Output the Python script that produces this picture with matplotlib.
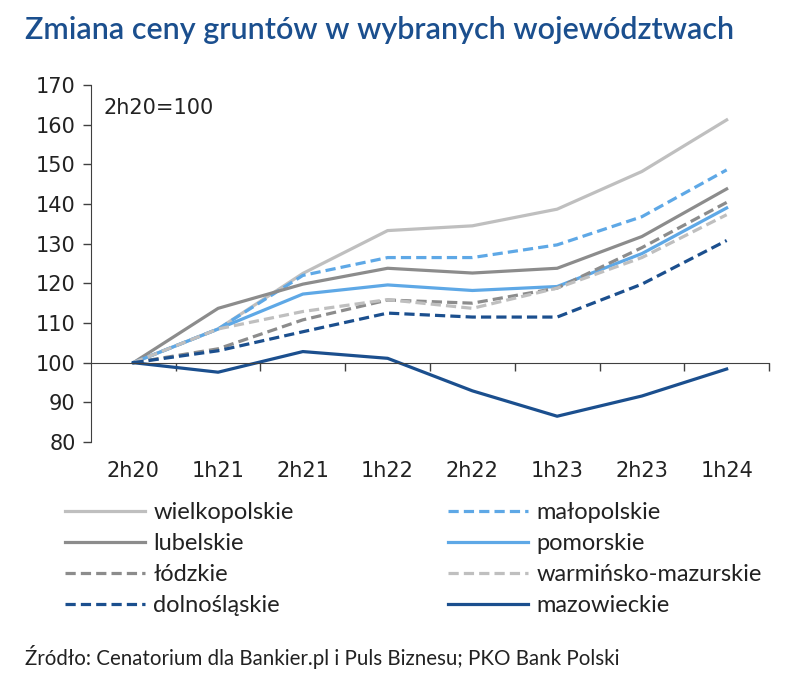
import numpy as np
import matplotlib
matplotlib.use("Agg")
import matplotlib.pyplot as plt
from matplotlib.lines import Line2D

okresy = ["2h20", "1h21", "2h21", "1h22", "2h22", "1h23", "2h23", "1h24"]

wielkopolskie = [100, 108.5, 122.5, 133.3, 134.5, 138.7, 148.2, 161.2]
lubelskie = [100, 113.7, 119.8, 123.8, 122.6, 123.8, 131.8, 143.8]
lodzkie = [100, 103.5, 110.8, 115.8, 115.0, 118.8, 129.0, 140.4]
dolnoslaskie = [100, 103.0, 107.8, 112.5, 111.5, 111.5, 119.8, 130.8]
malopolskie = [100, 108.5, 122.0, 126.5, 126.5, 129.7, 136.8, 148.6]
pomorskie = [100, 108.5, 117.3, 119.6, 118.2, 119.2, 127.5, 139.0]
warminsko = [100, 108.5, 112.9, 115.9, 113.7, 118.8, 126.5, 137.3]
mazowieckie = [100, 97.6, 102.8, 101.1, 92.9, 86.5, 91.6, 98.4]

niebieski = "#1b4f8e"
jasnoniebieski = "#5ea8e6"
szary = "#8c8c8c"
jasnoszary = "#bfbfbf"

kol1 = [
    ("wielkopolskie", wielkopolskie, jasnoszary, "-"),
    ("lubelskie", lubelskie, szary, "-"),
    ("łódzkie", lodzkie, szary, "--"),
    ("dolnośląskie", dolnoslaskie, niebieski, "--"),
]
kol2 = [
    ("małopolskie", malopolskie, jasnoniebieski, "--"),
    ("pomorskie", pomorskie, jasnoniebieski, "-"),
    ("warmińsko-mazurskie", warminsko, jasnoszary, "--"),
    ("mazowieckie", mazowieckie, niebieski, "-"),
]

plt.rcParams["font.family"] = ["Lato", "DejaVu Sans"]

fig = plt.figure(figsize=(7.98, 6.90), dpi=100)
ax = fig.add_axes([0.114, 0.3594, 0.8497, 0.5174])

x = np.arange(len(okresy))
rysuj = [kol1[0], kol2[0], kol1[1], kol2[1], kol1[2], kol2[2], kol1[3], kol2[3]]
for nazwa, dane, kolor, styl in rysuj:
    (ln,) = ax.plot(x, dane, color=kolor, lw=2.3, ls=styl, label=nazwa)
    if styl == "--":
        ln.set_dashes((3.2, 1.6))


def uchwyt(kolor, styl):
    h = Line2D([], [], color=kolor, lw=2.3, ls=styl)
    if styl == "--":
        h.set_dashes((3.2, 1.6))
    return h


uchwyty1 = [uchwyt(k[2], k[3]) for k in kol1]
uchwyty2 = [uchwyt(k[2], k[3]) for k in kol2]

ax.set_xlim(-0.5, len(okresy) - 0.5)
ax.set_ylim(80, 170)
ax.set_yticks(np.arange(80, 171, 10))
for t in ax.get_yticklabels():
    t.set_fontfamily("DejaVu Sans")
ax.tick_params(axis="y", direction="out", length=6, width=1, color="#404040",
               labelsize=15, labelcolor="#222222", pad=5)

for s in ["top", "right"]:
    ax.spines[s].set_visible(False)
ax.spines["left"].set_color("#404040")
ax.spines["bottom"].set_position(("data", 100))
ax.spines["bottom"].set_color("#404040")
ax.set_xticks(np.arange(len(okresy)) + 0.5)
ax.set_xticklabels([])
ax.tick_params(axis="x", direction="out", length=6, width=1, color="#404040")

for i, o in enumerate(okresy):
    ax.text(i, -0.08, o, transform=ax.get_xaxis_transform(), ha="center", va="center",
            fontsize=15, color="#222222", family="DejaVu Sans")

ax.text(0.018, 0.965, "2h20=100", transform=ax.transAxes, ha="left", va="top",
        fontsize=15, color="#222222", family="DejaVu Sans")

fig.text(0.031, 0.957, "Zmiana ceny gruntów w wybranych województwach", ha="left", va="center",
         fontsize=22, color=niebieski, fontweight="semibold")

opcje = dict(frameon=False, fontsize=17, handlelength=3.4, handletextpad=0.35,
             labelspacing=0.42, labelcolor="#222222", borderpad=0, borderaxespad=0)
fig.legend(uchwyty1, [k[0] for k in kol1], loc="upper left",
           bbox_to_anchor=(0.081, 0.272), **opcje)
fig.legend(uchwyty2, [k[0] for k in kol2], loc="upper left",
           bbox_to_anchor=(0.561, 0.272), **opcje)

fig.text(0.031, 0.048, "Źródło: Cenatorium dla Bankier.pl i Puls Biznesu; PKO Bank Polski",
         ha="left", va="center", fontsize=14.8, color="#222222")

fig.savefig("out.png", dpi=100)
